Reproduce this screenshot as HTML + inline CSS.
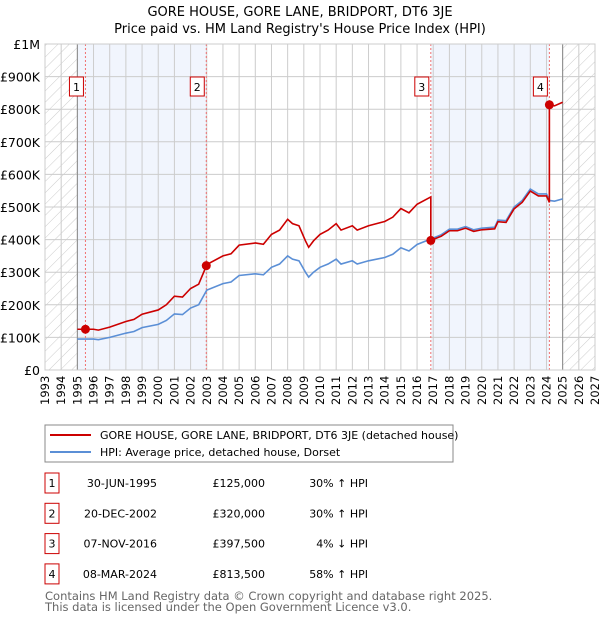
<!DOCTYPE html>
<html><head><meta charset="utf-8"><style>
body{margin:0;background:#fff;font-family:"Liberation Sans","DejaVu Sans",sans-serif;}
svg text{font-family:"DejaVu Sans","Liberation Sans",sans-serif;}
</style></head><body>
<svg id="c" width="600" height="620" xmlns="http://www.w3.org/2000/svg">
<defs><pattern id="h" width="8" height="8" patternUnits="userSpaceOnUse" patternTransform="rotate(45)"><line x1="0" y1="0" x2="0" y2="8" stroke="#ccc" stroke-width="1"/></pattern></defs>
<text x="300" y="16" text-anchor="middle" font-size="13" fill="#000">GORE HOUSE, GORE LANE, BRIDPORT, DT6 3JE</text>
<text x="300" y="33" text-anchor="middle" font-size="13" fill="#000">Price paid vs. HM Land Registry's House Price Index (HPI)</text>
<g id="plot"></g>
<g>
<rect x="45" y="425" width="408" height="37" fill="#fff" stroke="#888"/>
<line x1="50" y1="435" x2="91" y2="435" stroke="#cc0000" stroke-width="2"/>
<text x="100" y="439" font-size="11">GORE HOUSE, GORE LANE, BRIDPORT, DT6 3JE (detached house)</text>
<line x1="50" y1="452" x2="91" y2="452" stroke="#5b8fd6" stroke-width="2"/>
<text x="100" y="456" font-size="11">HPI: Average price, detached house, Dorset</text>
</g>
<g id="tbl" font-size="11"></g>
<text x="45" y="600" font-size="11.5" fill="#666">Contains HM Land Registry data © Crown copyright and database right 2025.</text>
<text x="45" y="611" font-size="11.5" fill="#666">This data is licensed under the Open Government Licence v3.0.</text>
</svg>
<script>
const hpiYears=[1995,1996,1996.3,1997,1998,1998.5,1999,2000,2000.5,2001,2001.5,2002,2002.5,2003,2004,2004.5,2005,2006,2006.5,2007,2007.5,2008,2008.3,2008.7,2009.1,2009.3,2009.6,2010,2010.5,2011,2011.3,2012,2012.3,2013,2014,2014.5,2015,2015.5,2016,2016.85,2017.5,2018,2018.5,2019,2019.5,2020,2020.8,2021,2021.5,2022,2022.5,2023,2023.5,2024,2024.18,2024.5,2025];
const hpiValues=[95,95,93,100,113,118,130,140,152,172,170,190,200,245,265,270,290,295,292,315,325,350,340,335,300,285,300,315,325,340,325,335,325,335,345,355,375,365,385,402,415,432,432,440,430,435,438,460,458,500,520,555,540,540,520,518,525];
const saleYears=[1995.5,2002.97,2016.85,2024.18];
const salePrices=[125,320,397.5,813.5];
const saleDates=["30-JUN-1995","20-DEC-2002","07-NOV-2016","08-MAR-2024"];
const salePriceLabels=["£125,000","£320,000","£397,500","£813,500"];
const salePct=["30% ↑ HPI","30% ↑ HPI","4% ↓ HPI","58% ↑ HPI"];
const yTicks=[0,100,200,300,400,500,600,700,800,900,1000];
const yTickLabels=["£0","£100K","£200K","£300K","£400K","£500K","£600K","£700K","£800K","£900K","£1M"];

const NS="http://www.w3.org/2000/svg";
const X0=45,X1=595,Y0=370,Y1=44,YR0=1993,YR1=2027;
const xs=y=>X0+(y-YR0)/(YR1-YR0)*(X1-X0);
const ys=v=>Y0-v/1000*(Y0-Y1);
const g=document.getElementById('plot');
function mk(t,a,p){const e=document.createElementNS(NS,t);for(const k in a)e.setAttribute(k,a[k]);(p||g).appendChild(e);return e;}
function hpiAt(t){for(let i=0;i<hpiYears.length-1;i++){if(t<=hpiYears[i+1]){const f=(t-hpiYears[i])/(hpiYears[i+1]-hpiYears[i]);return hpiValues[i]+f*(hpiValues[i+1]-hpiValues[i]);}}return hpiValues[hpiValues.length-1];}

let e;
e=mk('rect',{x:X0,y:Y1,width:X1-X0,height:Y0-Y1,fill:'#fff'});

// shading
const shadeEdges=[[1995,saleYears[1]],[saleYears[2],saleYears[3]]];
shadeEdges.forEach((s,i)=>{e=mk('rect',{x:xs(s[0]),y:Y1,width:xs(s[1])-xs(s[0]),height:Y0-Y1,fill:'#eef3fc',opacity:0.8});
});
e=mk('rect',{x:X0,y:Y1,width:xs(1995)-X0,height:Y0-Y1,fill:'url(#h)'});

e=mk('rect',{x:xs(2025),y:Y1,width:X1-xs(2025),height:Y0-Y1,fill:'url(#h)'});

// grid
for(let yr=YR0;yr<=YR1;yr++){e=mk('line',{x1:xs(yr),x2:xs(yr),y1:Y1,y2:Y0,stroke:'#ccc','stroke-width':1});

e=mk('text',{x:0,y:0,transform:`translate(${xs(yr)+4},${Y0+35}) rotate(-90)`,'font-size':'11.5',fill:'#000'});e.textContent=yr;
}
yTicks.forEach((v,i)=>{e=mk('line',{x1:X0,x2:X1,y1:ys(v),y2:ys(v),stroke:'#ccc','stroke-width':1});

e=mk('text',{x:X0-5,y:ys(v)+5,'text-anchor':'end','font-size':'12.5',fill:'#000'});e.textContent=yTickLabels[i];
});
[1995,2025].forEach(y=>{e=mk('line',{x1:xs(y),x2:xs(y),y1:Y1,y2:Y0,stroke:'#888','stroke-width':1});
});
// sale vlines
saleYears.forEach((sy,i)=>{e=mk('line',{x1:xs(sy),x2:xs(sy),y1:Y1,y2:Y0,stroke:'#f07070','stroke-width':1,'stroke-dasharray':'2,2'});

e=mk('rect',{x:xs(sy)-16,y:77,width:14,height:19,fill:'#fff',stroke:'#cc0000'});

e=mk('text',{x:xs(sy)-9,y:91,'text-anchor':'middle','font-size':'11'});e.textContent=i+1;
});
// hpi line
e=mk('polyline',{points:hpiYears.map((y,i)=>xs(y)+','+ys(hpiValues[i])).join(' '),fill:'none',stroke:'#5b8fd6','stroke-width':1.6});

// red: price indexed from each sale by HPI
const pts=[];
for(let s=0;s<saleYears.length;s++){
  const start=s===0?1995:saleYears[s], end=s<saleYears.length-1?saleYears[s+1]:2025;
  const r=salePrices[s]/hpiAt(saleYears[s]);
  const ts=[start].concat(hpiYears.filter(y=>y>start&&y<end)).concat([end]);
  ts.forEach(t=>pts.push(xs(t)+','+ys(hpiAt(t)*r)));
}
e=mk('polyline',{points:pts.join(' '),fill:'none',stroke:'#cc0000','stroke-width':1.6});

saleYears.forEach((sy,i)=>{e=mk('circle',{cx:xs(sy),cy:ys(salePrices[i]),r:4.5,fill:'#cc0000'});
});
e=mk('rect',{x:X0,y:Y1,width:X1-X0,height:Y0-Y1,fill:'none',stroke:'#ccc'});

// table
const t=document.getElementById('tbl');
saleYears.forEach((sy,i)=>{const cy=483+i*30.3;
e=mk('rect',{x:45,y:cy-10,width:14,height:20,fill:'#fff',stroke:'#cc0000'},t);

e=mk('text',{x:52,y:cy+4,'text-anchor':'middle'},t);e.textContent=i+1;

e=mk('text',{x:157,y:cy+4,'text-anchor':'end'},t);e.textContent=saleDates[i];

e=mk('text',{x:265,y:cy+4,'text-anchor':'end'},t);e.textContent=salePriceLabels[i];

e=mk('text',{x:368,y:cy+4,'text-anchor':'end'},t);e.textContent=salePct[i];
});
</script>
</body></html>
